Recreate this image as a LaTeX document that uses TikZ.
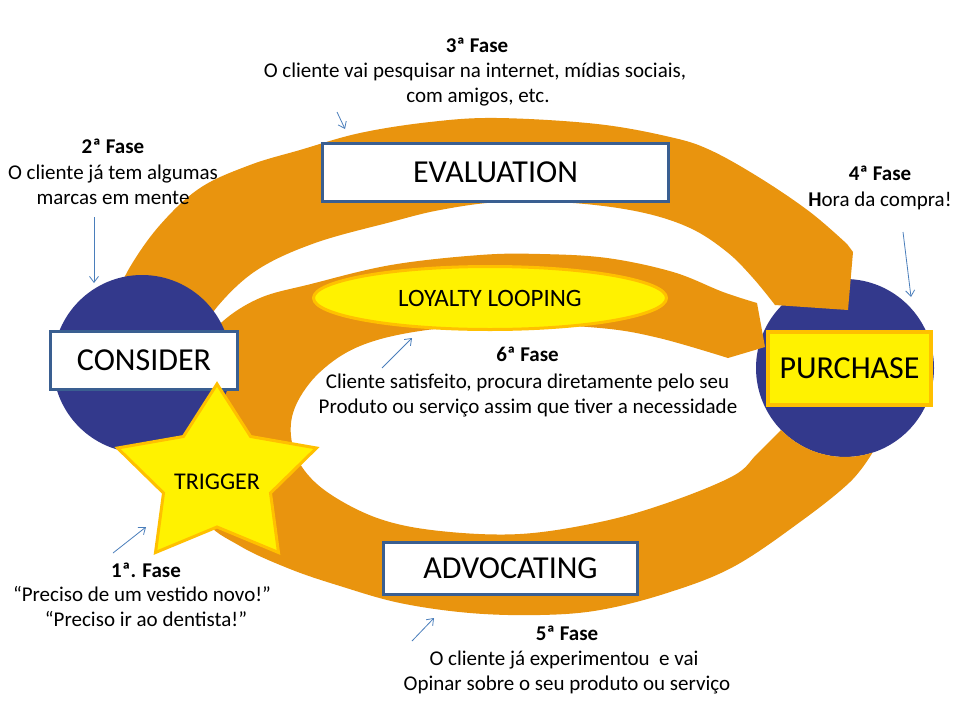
\documentclass[tikz,border=0pt]{standalone}
\usepackage{fontspec}
\setmainfont{Carlito}
\usetikzlibrary{arrows.meta,shapes.geometric}
\definecolor{bandorange}{RGB}{233,148,14}
\definecolor{circblue}{RGB}{51,57,140}
\definecolor{boxblue}{RGB}{58,95,145}
\definecolor{goldline}{RGB}{255,192,0}
\definecolor{hintblue}{RGB}{74,126,187}
\begin{document}
\begin{tikzpicture}[x=1pt,y=-1pt,
  stagebox/.style={draw=boxblue, line width=3pt, fill=white, inner sep=0pt, font=\fontsize{32}{37}\selectfont},
  yellowbox/.style={draw=goldline, fill=yellow, inner sep=0pt},
  fasetitle/.style={anchor=base, inner sep=0pt, font=\fontsize{21}{25}\selectfont\bfseries},
  fasetext/.style={anchor=base, inner sep=0pt, font=\fontsize{21}{25}\selectfont},
  hint/.style={draw=hintblue, line width=0.8pt, -{Straight Barb[length=6pt,width=9pt]}},
  stagecircle/.style={circle, fill=circblue, minimum size=178pt, inner sep=0pt}
]
\useasboundingbox (0,0) rectangle (960,720);
\fill[white] (0,0) rectangle (960,720);

% right circle (under the orange bands)
\node[stagecircle] (pcirc) at (845,368) {};

% lower loop with loyalty arc
\fill[bandorange]
  plot[domain=72:136, samples=12] ({845+89*cos(\x)},{368+89*sin(\x)})
  -- plot[smooth, tension=0.6] coordinates {(781,430) (757,454) (733,476) (667,503) (600,522) (520,534) (440,531) (380,519) (330,494) (302,467) (291,436) (296,405) (320,372) (360,346) (420,331) (506,324) (600,328) (659,338) (728,358)}
  -- (765,347)
  -- plot[smooth, tension=0.6] coordinates {(757,303) (723,292) (673,272) (607,258) (540,254) (480,255) (391,265) (311,284) (260,298) (222,322) (203,350) (192,400) (190,460) (204,518) (240,546) (290,569) (340,586) (400,603) (470,613) (540,615) (600,610) (667,593) (733,567) (800,522) (850,482) (872.5,452.6)}
  -- cycle;

% upper band (evaluation arc)
\fill[bandorange]
  plot[smooth, tension=0.6] coordinates {(112,305) (130,267) (160,225) (200,188) (250,165) (300,150) (360,133) (430,122) (497,118) (597,124) (670,137) (710,150) (760,178) (810,212) (847,244)}
  -- (853,252) -- (848,310) -- (775,305)
  -- plot[smooth, tension=0.6] coordinates {(775,305) (753,278) (727,252) (690,228) (640,212) (573,203) (500,202) (440,210) (391,222) (315,243) (257,270) (217,307) (198,340)}
  -- cycle;

% left circle
\node[stagecircle] (ccirc) at (142,364) {};

% stage boxes
\node[stagebox, minimum width=346pt, minimum height=58pt] (evaluation) at (495.5,172) {EVALUATION};
\node[stagebox, minimum width=187pt, minimum height=58pt] (consider) at (144,360.5) {CONSIDER};
\node[stagebox, minimum width=254pt, minimum height=52pt] (advocating) at (510.5,568.5) {ADVOCATING};
\node[yellowbox, line width=4pt, minimum width=163pt, minimum height=73pt, font=\fontsize{32}{37}\selectfont] (purchase) at (849.5,368.5) {PURCHASE};
\node[yellowbox, ellipse, line width=3pt, minimum width=353pt, minimum height=63pt, font=\fontsize{25}{30}\selectfont] (loyalty) at (490,298) {LOYALTY LOOPING};

% trigger star
\filldraw[fill=yellow, draw=goldline, line width=3pt, line join=miter]
  (217,384) -- (250.6,436.5) -- (316.5,448) -- (270.5,493) -- (278.5,552.5) -- (217,527) -- (155.5,552.5) -- (163.5,493) -- (117.5,448) -- (183.4,436.5) -- cycle;
\node[inner sep=0pt, font=\fontsize{24}{28}\selectfont] (trigger) at (217,482) {TRIGGER};

% phase texts
\node[fasetitle] (f3t) at (477,52) {3ª Fase};
\node[fasetext] (f3a) at (475,77) {O cliente vai pesquisar na internet, mídias sociais,};
\node[fasetext] (f3b) at (478,102) {com amigos, etc.};

\node[fasetitle] (f2t) at (113,153.5) {2ª Fase};
\node[fasetext] (f2a) at (113,179) {O cliente já tem algumas};
\node[fasetext] (f2b) at (113,204) {marcas em mente};

\node[fasetitle] (f4t) at (880,180.5) {4ª Fase};
\node[fasetext] (f4a) at (880,206) {\textbf{H}ora da compra!};

\node[fasetitle] (f6t) at (527.5,361.5) {6ª Fase};
\node[fasetext] (f6a) at (527.5,388) {Cliente satisfeito, procura diretamente pelo seu};
\node[fasetext] (f6b) at (528,413) {Produto ou serviço assim que tiver a necessidade};

\node[fasetitle] (f1t) at (146,577) {1ª. Fase};
\node[fasetext] (f1a) at (142,601.5) {“Preciso de um vestido novo!”};
\node[fasetext] (f1b) at (146,626.5) {“Preciso ir ao dentista!”};

\node[fasetitle] (f5t) at (567,640.5) {5ª Fase};
\node[fasetext] (f5a) at (564,665) {O cliente já experimentou\ \ e vai};
\node[fasetext] (f5b) at (567,690) {Opinar sobre o seu produto ou serviço};

% hint arrows
\coordinate (h1s) at (113,553); \coordinate (h1e) at (146,527);
\coordinate (h2s) at (94,217);  \coordinate (h2e) at (94,283);
\coordinate (h3s) at (337,112); \coordinate (h3e) at (345,129);
\coordinate (h4s) at (903,232); \coordinate (h4e) at (911,297);
\coordinate (h5s) at (412,641); \coordinate (h5e) at (434,618);
\coordinate (h6s) at (382,368); \coordinate (h6e) at (412,338);
\draw[hint] (h1s) -- (h1e);
\draw[hint] (h2s) -- (h2e);
\draw[hint] (h3s) -- (h3e);
\draw[hint] (h4s) -- (h4e);
\draw[hint] (h5s) -- (h5e);
\draw[hint] (h6s) -- (h6e);
\end{tikzpicture}
\end{document}
